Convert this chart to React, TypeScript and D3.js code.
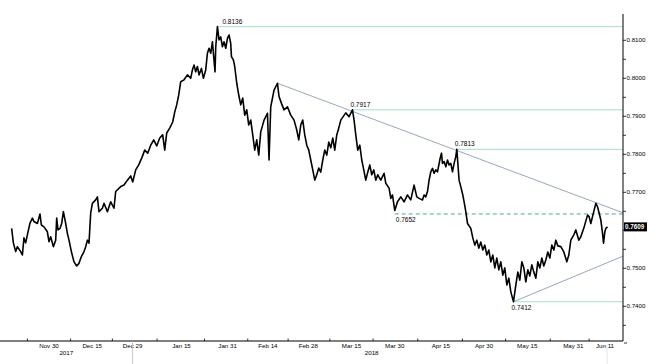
import React from "react";
import * as d3 from "d3";

// AUD/USD, Nov 2017 - Jun 2018. [days since 16 Nov 2017, rate]
const audusd: [number, number][] = [
  [1.04, 0.7605], [1.63, 0.7567], [2.43, 0.7544], [3.02, 0.7557], [4.17, 0.7544], [4.76, 0.7535],
  [5.31, 0.758], [5.9, 0.7567], [6.49, 0.7588], [7.4, 0.7619], [8.23, 0.7632], [8.78, 0.7623],
  [9.97, 0.7618], [10.87, 0.7643], [11.35, 0.7614], [12.26, 0.7609], [13.44, 0.7596], [13.99, 0.757],
  [14.58, 0.7583], [15.52, 0.7557], [16.32, 0.7574], [16.67, 0.7632], [17.12, 0.7601], [17.81, 0.7605],
  [18.4, 0.7618], [18.99, 0.7649], [19.79, 0.7618], [20.38, 0.7592], [20.94, 0.7574], [21.77, 0.7544],
  [22.67, 0.7517], [23.61, 0.7506], [24.41, 0.7513], [25.24, 0.7531], [26.15, 0.7544], [26.74, 0.7557],
  [27.33, 0.7574], [27.88, 0.7566], [28.47, 0.7645], [29.06, 0.7671], [30.21, 0.768], [30.8, 0.7688],
  [31.35, 0.7649], [32.53, 0.7658], [33.09, 0.7671], [34.27, 0.7649], [35.42, 0.7675], [36.56, 0.7658],
  [37.15, 0.7702], [38.89, 0.7715], [40.03, 0.7719], [41.22, 0.7732], [42.36, 0.7743], [43.06, 0.7727],
  [44.1, 0.7759], [45.14, 0.7772], [46.18, 0.779], [47.22, 0.7811], [48.26, 0.7803], [49.31, 0.7824],
  [50.35, 0.7838], [51.39, 0.7822], [52.43, 0.7843], [53.47, 0.7851], [54.17, 0.7811], [54.86, 0.7856],
  [55.9, 0.7869], [56.94, 0.7885], [57.64, 0.7911], [58.33, 0.793], [59.03, 0.7956], [59.72, 0.7991],
  [60.87, 0.7996], [62.05, 0.8009], [63.19, 0.8], [63.78, 0.8022], [64.34, 0.8035], [64.93, 0.8017],
  [65.52, 0.8031], [66.08, 0.8009], [66.91, 0.8026], [67.6, 0.8], [68.4, 0.8022], [68.99, 0.8066],
  [69.55, 0.8079], [70.14, 0.8066], [70.73, 0.8096], [71.28, 0.8048], [71.63, 0.8017], [71.88, 0.8083],
  [72.47, 0.8136], [73.02, 0.8101], [73.61, 0.8109], [74.2, 0.8083], [74.76, 0.8096], [75.35, 0.8079],
  [75.94, 0.8105], [76.49, 0.8114], [77.08, 0.8092], [77.33, 0.8057], [78.02, 0.8048], [78.47, 0.8031],
  [79.17, 0.7987], [79.86, 0.7956], [80.56, 0.793], [81.25, 0.7948], [81.94, 0.7903], [82.64, 0.7917],
  [83.33, 0.7877], [84.03, 0.789], [84.72, 0.7851], [85.42, 0.7811], [86.11, 0.7838], [86.81, 0.7798],
  [87.5, 0.7859], [88.65, 0.789], [89.83, 0.7908], [90.38, 0.7785], [90.97, 0.7925], [92.12, 0.7969],
  [93.3, 0.7987], [93.85, 0.7952], [94.69, 0.7934], [95.59, 0.7917], [96.77, 0.7925], [97.92, 0.7903],
  [99.06, 0.789], [100.0, 0.7864], [100.69, 0.7838], [101.39, 0.7877], [102.08, 0.789], [102.78, 0.7851],
  [103.47, 0.7824], [104.17, 0.7811], [104.86, 0.7785], [105.56, 0.7759], [106.25, 0.7732], [106.94, 0.7746],
  [107.64, 0.7764], [108.33, 0.7753], [109.03, 0.7785], [109.72, 0.7811], [110.42, 0.7798], [111.11, 0.7832],
  [111.81, 0.7817], [112.5, 0.7843], [113.19, 0.7811], [113.89, 0.7851], [114.58, 0.7869], [115.28, 0.789],
  [117.01, 0.7909], [118.16, 0.7899], [119.34, 0.7917], [119.9, 0.789], [120.49, 0.7851], [121.18, 0.7811],
  [121.88, 0.7824], [122.57, 0.7785], [123.26, 0.7759], [123.96, 0.7732], [124.65, 0.7753], [125.35, 0.7772],
  [126.04, 0.7746], [126.74, 0.7759], [127.43, 0.7732], [128.13, 0.7746], [129.17, 0.7732], [130.31, 0.775],
  [130.9, 0.7724], [132.05, 0.7711], [132.64, 0.7684], [133.23, 0.7693], [134.03, 0.7652], [134.97, 0.7675],
  [136.11, 0.7688], [137.26, 0.7675], [138.44, 0.7693], [139.58, 0.768], [140.73, 0.7719], [141.67, 0.7688],
  [142.47, 0.7684], [143.65, 0.768], [144.2, 0.7693], [144.79, 0.7688], [145.38, 0.7702], [145.94, 0.7732],
  [146.53, 0.7754], [147.12, 0.7763], [147.67, 0.775], [148.26, 0.7759], [148.85, 0.7754], [149.76, 0.7789],
  [150.24, 0.7803], [150.59, 0.7776], [151.15, 0.7781], [151.74, 0.7767], [152.33, 0.7785], [152.88, 0.7772],
  [153.47, 0.7776], [154.06, 0.7754], [154.62, 0.7776], [155.21, 0.7794], [155.56, 0.7813], [156.01, 0.7767],
  [156.35, 0.7732], [156.94, 0.7715], [157.53, 0.7697], [158.09, 0.7675], [158.68, 0.7649], [159.27, 0.7618],
  [160.42, 0.7605], [161.11, 0.758], [161.81, 0.7561], [162.5, 0.7574], [163.19, 0.7553], [163.89, 0.7569],
  [164.58, 0.7548], [165.28, 0.7561], [165.97, 0.7535], [166.67, 0.7548], [167.36, 0.7517], [168.06, 0.7535],
  [168.75, 0.7501], [169.44, 0.7527], [170.14, 0.7496], [170.83, 0.7517], [171.53, 0.7482], [172.22, 0.7501],
  [172.92, 0.7456], [173.61, 0.7474], [174.31, 0.7438], [175.24, 0.7412], [176.04, 0.7456], [176.74, 0.749],
  [177.43, 0.7469], [178.13, 0.7517], [178.82, 0.7501], [179.51, 0.7464], [180.21, 0.7496], [180.9, 0.748],
  [181.6, 0.7509], [182.29, 0.749], [182.99, 0.7474], [183.68, 0.7517], [184.38, 0.7501], [185.07, 0.7527],
  [185.76, 0.7506], [186.46, 0.7522], [187.15, 0.7543], [187.85, 0.7527], [188.54, 0.7561], [189.24, 0.7548],
  [189.93, 0.7574], [190.63, 0.7559], [191.67, 0.7557], [192.71, 0.7543], [193.75, 0.7517], [194.44, 0.7535],
  [195.14, 0.7574], [196.18, 0.7588], [196.88, 0.7601], [197.92, 0.7574], [198.61, 0.7583], [199.76, 0.7609],
  [200.94, 0.764], [201.49, 0.7636], [202.08, 0.7618], [202.67, 0.7636], [203.23, 0.7653], [203.82, 0.7671],
  [204.41, 0.7662], [204.97, 0.7645], [205.56, 0.7627], [206.15, 0.7592], [206.49, 0.7566], [206.94, 0.7596],
  [207.29, 0.7605], [207.88, 0.7609],
];

const lastValue = 0.7609;

// swing highs/lows marked with a horizontal level: [day, rate]
const solidLevels: [number, number][] = [
  [72.47, 0.8136],
  [119.34, 0.7917],
  [155.56, 0.7813],
  [175.24, 0.7412],
];
const dashedLevel: [number, number] = [134.03, 0.7652];
const dashedLevelDrawnAt = 0.7643;

// trend lines: [startDay, startRate, rateAtRightAxis]
const trendLines: [number, number, number][] = [
  [93.3, 0.7987, 0.7646],
  [175.24, 0.7412, 0.7532],
];

const xLabels = [
  "2017-11-30", "2017-12-15", "2017-12-29", "2018-01-15", "2018-01-31", "2018-02-14", "2018-02-28",
  "2018-03-15", "2018-03-30", "2018-04-15", "2018-04-30", "2018-05-15", "2018-05-31", "2018-06-11",
];
const yearLabels: [string, string][] = [["2017", "2017-12-06"], ["2018", "2018-03-22"]];
const yTicks = [0.74, 0.75, 0.76, 0.77, 0.78, 0.79, 0.8, 0.81];

const W = 655;
const H = 364;
const axisX = 623;
const axisY = 341;
const font = "'Liberation Sans', Arial, sans-serif";

const start = new Date(2017, 10, 16).getTime();
const dayToDate = (d: number) => new Date(start + d * 86400000);
const parse = d3.timeParse("%Y-%m-%d");
const fmt = d3.timeFormat("%b %-d");

export default function App() {
  const x = d3
    .scaleTime()
    .domain([new Date(2017, 10, 30), new Date(2018, 5, 11)])
    .range([49, 605]);
  const y = d3.scaleLinear().domain([0.74, 0.81]).range([306.3, 40.3]);

  const line = d3
    .line<[number, number]>()
    .x((d) => x(dayToDate(d[0])))
    .y((d) => y(d[1]));

  const labelX = xLabels.map((s) => x(parse(s)!));
  const tickX = [labelX[0] - (labelX[1] - labelX[0]) / 2];
  for (let i = 1; i < labelX.length; i++) tickX.push((labelX[i - 1] + labelX[i]) / 2);

  const minorTicks = d3.range(0.735, 0.815, 0.005);

  return (
    <svg
      width={W}
      height={H}
      style={{ position: "absolute", left: 0, top: 0, background: "#fff" }}
      fontFamily={font}
    >
      {/* level lines */}
      {solidLevels.map(([d, v], i) => (
        <line key={i} x1={x(dayToDate(d))} x2={axisX} y1={y(v)} y2={y(v)} stroke="#a9dccb" strokeWidth={1} />
      ))}
      <line
        x1={x(dayToDate(dashedLevel[0]))}
        x2={axisX}
        y1={y(dashedLevelDrawnAt)}
        y2={y(dashedLevelDrawnAt)}
        stroke="#3fa372"
        strokeWidth={0.9}
        strokeDasharray="4,3"
      />

      {/* trend lines */}
      {trendLines.map(([d, v0, v1], i) => (
        <line key={i} x1={x(dayToDate(d))} y1={y(v0)} x2={axisX} y2={y(v1)} stroke="#8a9db5" strokeWidth={0.9} />
      ))}

      {/* price */}
      <path d={line(audusd) ?? ""} fill="none" stroke="#000" strokeWidth={1.6} strokeLinejoin="round" />

      {/* level labels */}
      {solidLevels.map(([d, v], i) => {
        const below = v === 0.7412;
        const lx = x(dayToDate(d)) + (i === 0 ? 5 : -2);
        return (
          <text key={i} x={lx} y={y(v) + (below ? 8 : -3)} fontSize={6.5} fill="#000">
            {v.toFixed(4)}
          </text>
        );
      })}
      <text x={x(dayToDate(dashedLevel[0])) + 1} y={y(dashedLevelDrawnAt) + 8} fontSize={6.5} fill="#000">
        {dashedLevel[1].toFixed(4)}
      </text>

      {/* right axis */}
      <line x1={axisX} x2={axisX} y1={14} y2={axisY} stroke="#000" strokeWidth={1} />
      {minorTicks.map((v, i) => (
        <line key={i} x1={axisX} x2={axisX + 3} y1={y(v)} y2={y(v)} stroke="#000" strokeWidth={0.8} />
      ))}
      {yTicks.map((v) =>
        Math.abs(v - lastValue) < 0.003 ? null : (
          <text key={v} x={axisX + 3.5} y={y(v) + 2} fontSize={6.2} fill="#000">
            {v.toFixed(4)}
          </text>
        )
      )}
      <rect x={axisX + 1} y={y(lastValue) - 4.5} width={23} height={9} fill="#000" />
      <text x={axisX + 2} y={y(lastValue) + 2.2} fontSize={6.3} fill="#fff" fontWeight="bold">
        {lastValue.toFixed(4)}
      </text>

      {/* bottom axis */}
      <line x1={0} x2={axisX} y1={axisY} y2={axisY} stroke="#000" strokeWidth={1} />
      <line x1={axisX + 1} x2={axisX + 4} y1={axisY + 2} y2={axisY + 2} stroke="#000" strokeWidth={0.8} />
      {tickX.map((tx, i) => (
        <line key={i} x1={tx} x2={tx} y1={axisY} y2={axisY - 2.5} stroke="#000" strokeWidth={0.8} />
      ))}
      {xLabels.map((s, i) => (
        <text key={s} x={labelX[i]} y={axisY + 7} fontSize={6.2} textAnchor="middle" fill="#000">
          {fmt(parse(s)!)}
        </text>
      ))}
      <line x1={x(parse("2017-12-29")!)} x2={x(parse("2017-12-29")!)} y1={axisY} y2={H} stroke="#bbb" strokeWidth={0.8} />
      <line x1={x(parse("2018-06-11")!) + 2} x2={x(parse("2018-06-11")!) + 2} y1={axisY + 4} y2={H} stroke="#ddd" strokeWidth={0.8} />
      {yearLabels.map(([t, s]) => (
        <text key={t} x={x(parse(s)!)} y={axisY + 14} fontSize={6.2} textAnchor="middle" fill="#000">
          {t}
        </text>
      ))}
    </svg>
  );
}
